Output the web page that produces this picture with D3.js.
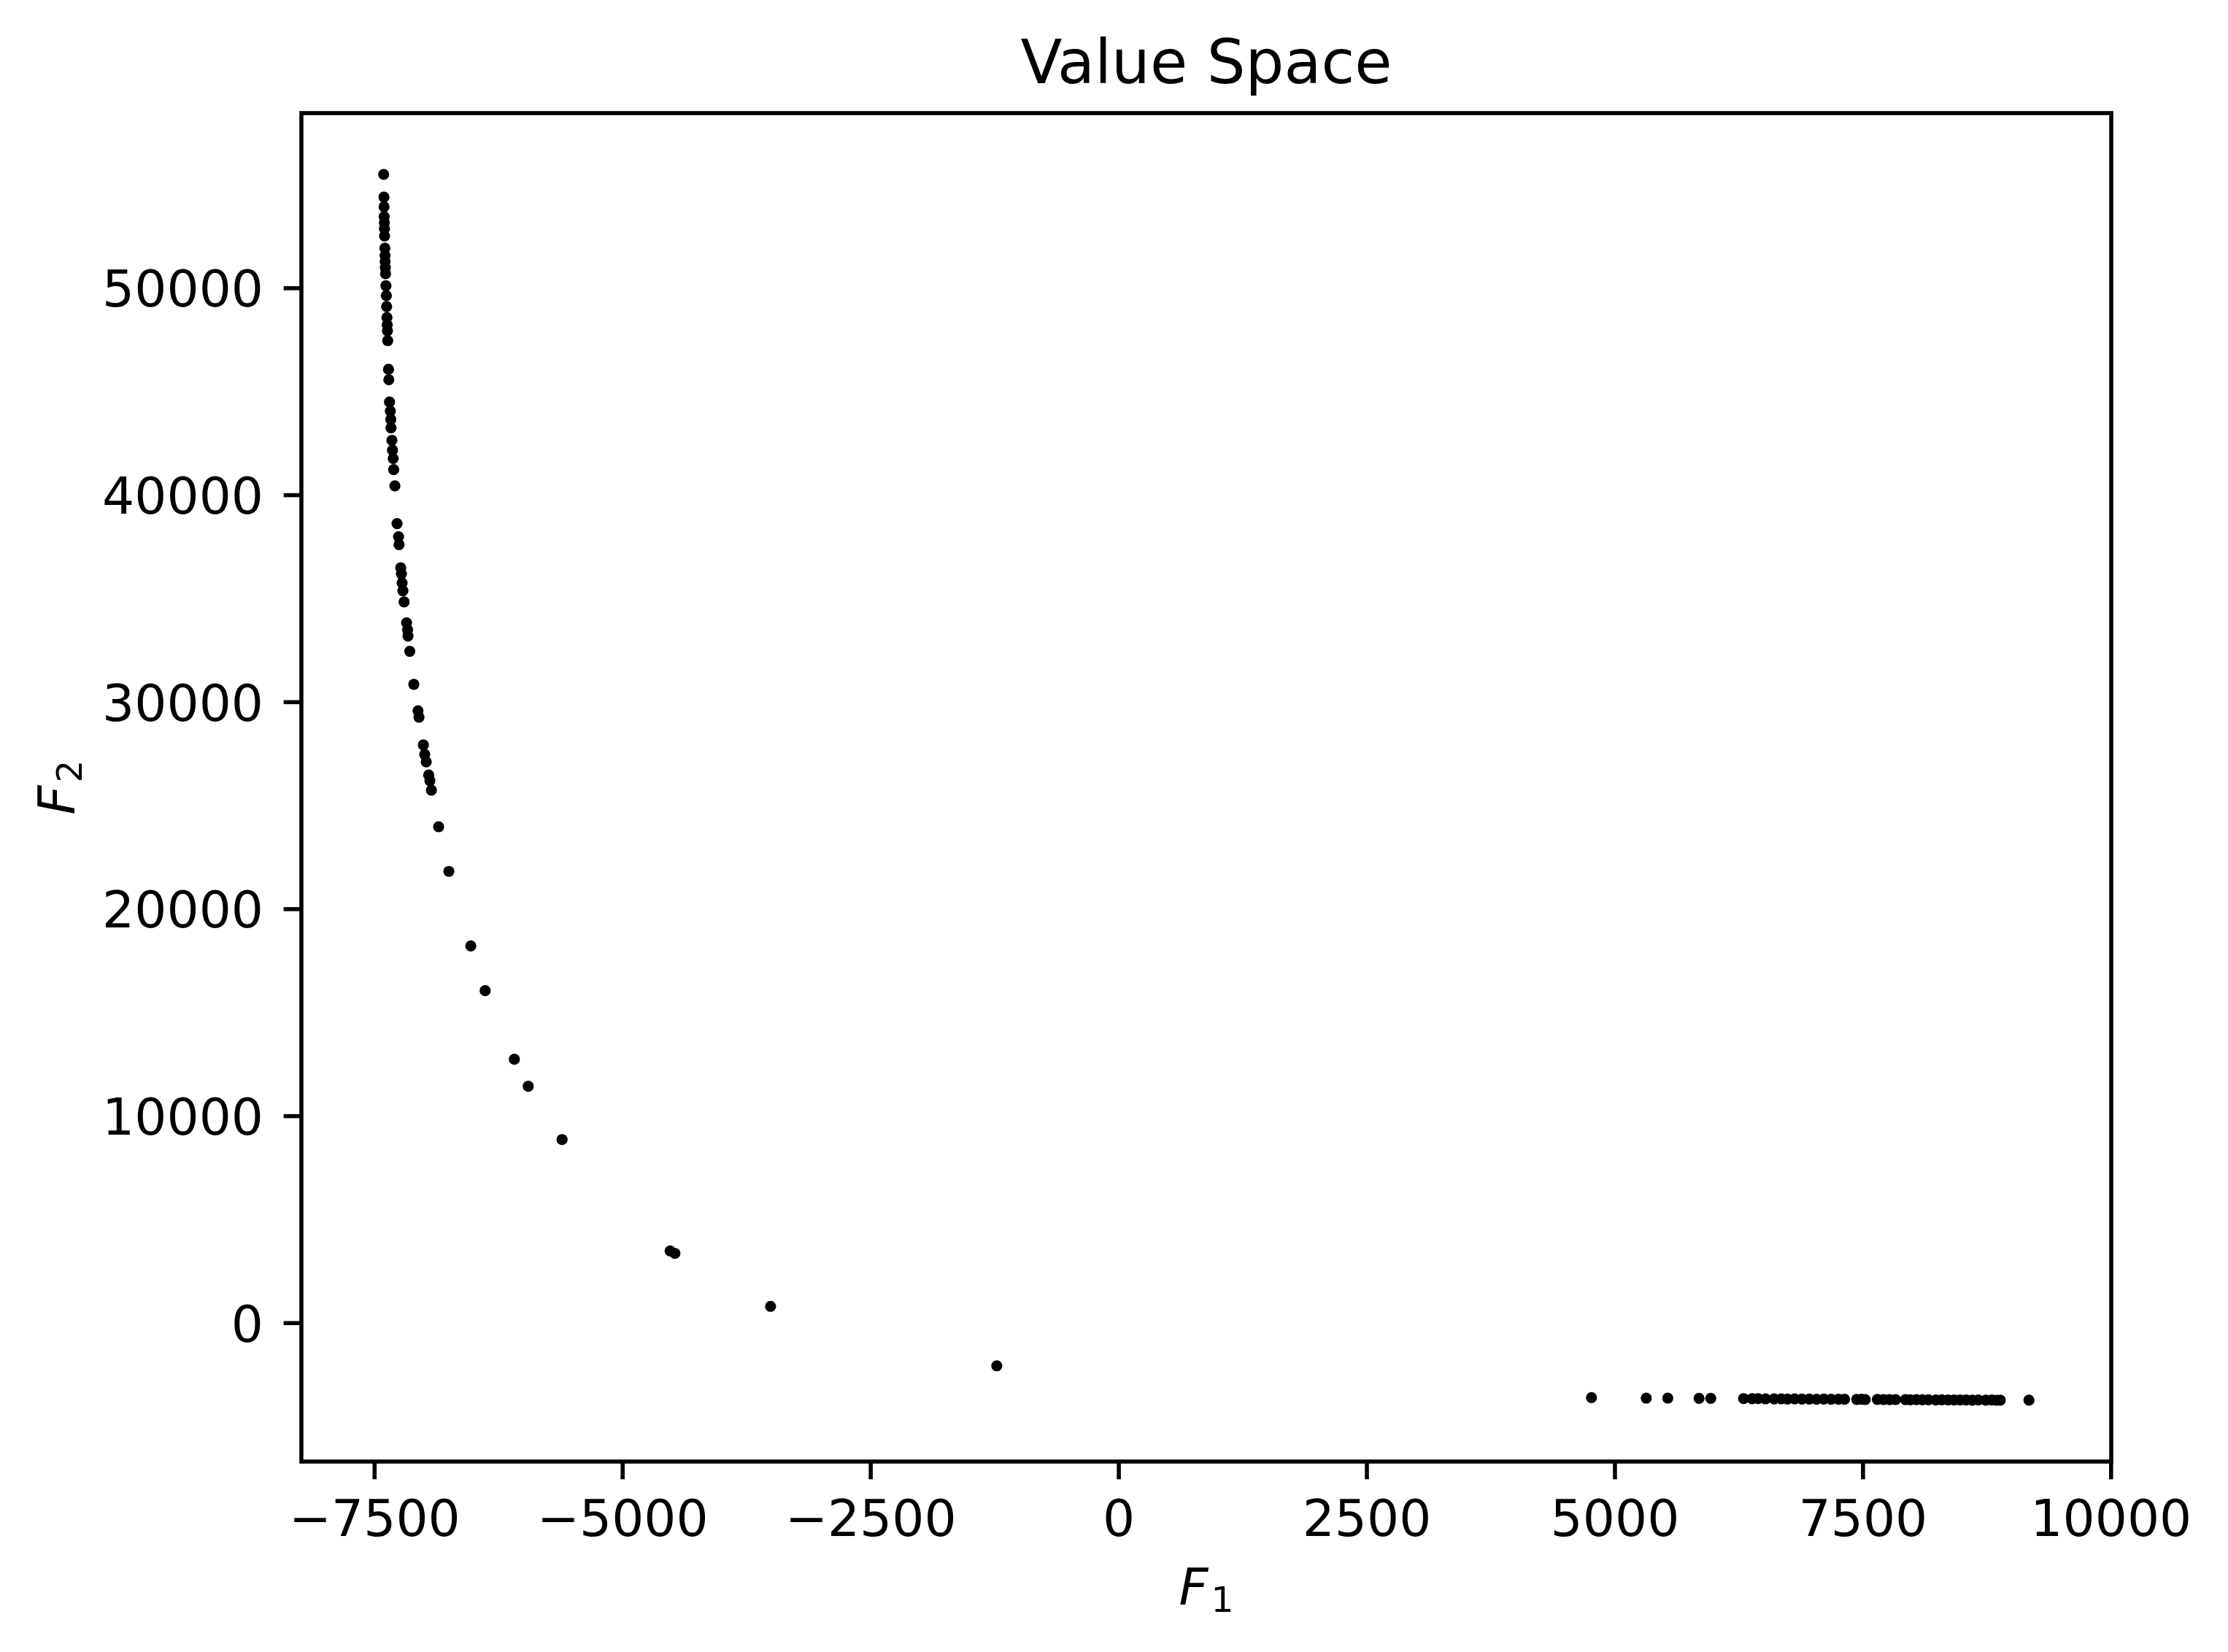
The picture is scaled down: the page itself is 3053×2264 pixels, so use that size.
<!DOCTYPE html>
<html>
<head>
<meta charset="utf-8">
<script src="https://cdn.jsdelivr.net/npm/d3@7"></script>
<style>
  html, body { margin: 0; padding: 0; background: #fff; }
  svg { display: block; }
  text { font-family: "DejaVu Sans", sans-serif; fill: #000; }
</style>
</head>
<body>
<svg id="chart" width="3053" height="2264"></svg>
<script>
// ---- data ----
const f1Values = [
  -7405, -7402, -7401, -7400, -7398, -7397, -7396, -7393, -7391, -7390,
  -7388, -7386, -7382, -7378, -7375, -7372, -7369, -7367, -7364, -7356,
  -7353, -7346, -7338, -7333, -7331, -7322, -7316, -7309, -7304, -7292,
  -7270, -7255, -7250, -7233, -7226, -7219, -7211, -7199, -7174, -7164,
  -7160, -7142, -7101, -7059, -7049, -7005, -6991, -6976, -6951, -6939,
  -6924, -6851, -6748, -6527, -6382, -6088, -5948, -5607, -4518, -4470,
  -3506, -1226,
  4767, 5319, 5536, 5851, 5969,
  6300, 6386, 6447, 6521, 6607, 6680, 6741, 6815, 6888, 6962, 7035, 7109, 7182, 7256, 7317,
  7440, 7489, 7526, 7648, 7710, 7771, 7832,
  7931, 7979, 8041, 8102, 8163, 8237, 8298, 8360, 8421, 8482, 8543, 8605, 8666, 8740, 8801, 8850, 8887,
  9176
];
const f2Values = [
  55480, 54383, 53914, 53444, 53149, 52856, 52504, 51916, 51563, 51270,
  50977, 50682, 50097, 49623, 49094, 48565, 48212, 47920, 47451, 46060,
  45557, 44482, 44048, 43643, 43237, 42631, 42158, 41753, 41213, 40430,
  38608, 37973, 37595, 36474, 36178, 35744, 35367, 34827, 33815, 33477,
  33181, 32440, 30846, 29566, 29256, 27920, 27461, 27094, 26460, 26192,
  25733, 23963, 21805, 18202, 16044, 12729, 11425, 8850, 3470, 3350,
  793, -2080,
  -3620, -3640, -3640, -3655, -3650,
  -3665, -3670, -3665, -3675, -3680, -3675, -3685, -3680, -3690, -3685, -3695, -3690, -3700, -3695, -3700,
  -3705, -3700, -3710, -3705, -3710, -3715, -3710,
  -3715, -3720, -3715, -3725, -3720, -3730, -3725, -3735, -3730, -3735, -3730, -3740, -3735, -3740, -3735, -3745, -3740,
  -3740
];
const xTickValues = [-7500, -5000, -2500, 0, 2500, 5000, 7500, 10000];
const yTickValues = [0, 10000, 20000, 30000, 40000, 50000];
const titleText = "Value Space";

(function () {
  // ---- layout ----
  const W = 3053, H = 2264;
  const pLeft = 413, pRight = 2893, pTop = 155, pBottom = 2003;
  const pt = 500 / 72;            // pixels per point at 500 dpi
  const lw = 0.8 * pt;            // spine / tick width
  const tickLen = 3.5 * pt;
  const tickPad = 3.5 * pt;
  const fs = 10 * pt;             // tick label font size
  const titleFs = 12 * pt;

  const points = f1Values.map((x, i) => ({ x, y: f2Values[i] }));

  function padded(ext) {
    const r = ext[1] - ext[0];
    return [ext[0] - 0.05 * r, ext[1] + 0.05 * r];
  }
  const x = d3.scaleLinear().domain(padded(d3.extent(f1Values))).range([pLeft, pRight]);
  const y = d3.scaleLinear().domain(padded(d3.extent(f2Values))).range([pBottom, pTop]);

  const fmt = d => (d < 0 ? "\u2212" + Math.abs(d) : String(d));

  const svg = d3.select("#chart");
  svg.append("rect").attr("width", W).attr("height", H).attr("fill", "#fff");

  // points
  svg.append("g")
    .selectAll("circle")
    .data(points)
    .join("circle")
    .attr("cx", d => x(d.x))
    .attr("cy", d => y(d.y))
    .attr("r", 7.6)
    .attr("fill", "#000");

  // x axis
  const gx = svg.append("g")
    .attr("transform", `translate(0,${pBottom})`)
    .call(d3.axisBottom(x).tickValues(xTickValues).tickFormat(fmt).tickSize(tickLen).tickPadding(tickPad));
  gx.select(".domain").remove();
  gx.selectAll(".tick line").attr("stroke", "#000").attr("stroke-width", lw);
  gx.selectAll(".tick text")
    .attr("y", 102).attr("dy", 0)
    .attr("font-size", fs)
    .attr("font-family", "DejaVu Sans")
    .attr("fill", "#000");

  // y axis
  const gy = svg.append("g")
    .attr("transform", `translate(${pLeft},0)`)
    .call(d3.axisLeft(y).tickValues(yTickValues).tickFormat(fmt).tickSize(tickLen).tickPadding(tickPad));
  gy.select(".domain").remove();
  gy.selectAll(".tick line").attr("stroke", "#000").attr("stroke-width", lw);
  gy.selectAll(".tick text")
    .attr("x", -(pLeft - 361)).attr("dy", 25.3)
    .attr("font-size", fs)
    .attr("font-family", "DejaVu Sans")
    .attr("text-anchor", "end")
    .attr("fill", "#000");

  // spines
  svg.append("rect")
    .attr("x", pLeft).attr("y", pTop)
    .attr("width", pRight - pLeft).attr("height", pBottom - pTop)
    .attr("fill", "none").attr("stroke", "#000").attr("stroke-width", lw)
    .attr("stroke-linejoin", "miter");

  // title
  svg.append("text")
    .attr("x", (pLeft + pRight) / 2).attr("y", 114)
    .attr("text-anchor", "middle")
    .attr("font-size", titleFs)
    .text(titleText);

  // x label F_1
  const xl = svg.append("text")
    .attr("x", (pLeft + pRight) / 2).attr("y", 2199)
    .attr("text-anchor", "middle")
    .attr("font-size", fs);
  xl.append("tspan").attr("font-style", "italic").text("F");
  xl.append("tspan").attr("font-size", fs * 0.7).attr("dx", 4).attr("dy", 10).text("1");

  // y label F_2
  const yl = svg.append("text")
    .attr("transform", `translate(101.7,${(pTop + pBottom) / 2}) rotate(-90)`)
    .attr("text-anchor", "middle")
    .attr("font-size", fs);
  yl.append("tspan").attr("font-style", "italic").text("F");
  yl.append("tspan").attr("font-size", fs * 0.7).attr("dx", 4).attr("dy", 10).text("2");
})();
</script>
</body>
</html>
